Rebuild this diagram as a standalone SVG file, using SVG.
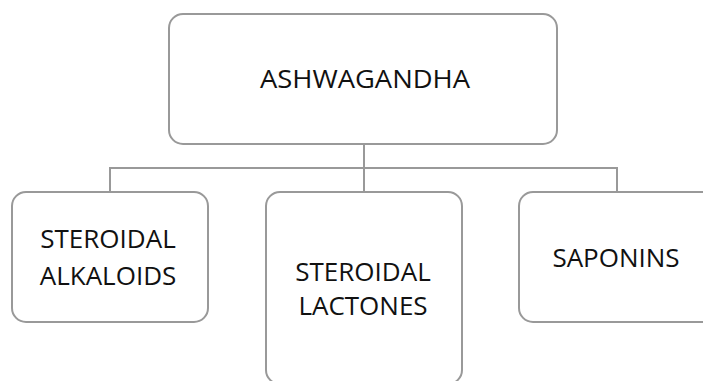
<svg xmlns="http://www.w3.org/2000/svg" width="703" height="381" viewBox="0 0 703 381">
<style>
.box{fill:#fff;stroke:#999;stroke-width:2}
.t{font-family:"Open Sans","Liberation Sans",sans-serif;font-size:26px;fill:#111;text-anchor:middle}
.c{fill:none;stroke:#999;stroke-width:2}
</style>
<rect width="703" height="381" fill="#fff"/>
<g id="connectors">
<path class="c" d="M364 144 V192 M110 192 V168 H617 V192"/>
</g>
<g id="ashwagandha">
<rect class="box" x="169" y="14" width="388" height="130" rx="14"/>
<text class="t" x="365" y="88" textLength="210" lengthAdjust="spacingAndGlyphs">ASHWAGANDHA</text>
</g>
<g id="steroidal-alkaloids">
<rect class="box" x="12" y="192" width="196" height="130" rx="14"/>
<text class="t" x="108" y="248">STEROIDAL</text>
<text class="t" x="108" y="285">ALKALOIDS</text>
</g>
<g id="steroidal-lactones">
<rect class="box" x="266" y="192" width="196" height="192" rx="14"/>
<text class="t" x="363" y="281">STEROIDAL</text>
<text class="t" x="363" y="315">LACTONES</text>
</g>
<g id="saponins">
<rect class="box" x="519" y="192" width="200" height="130" rx="14"/>
<text class="t" x="616" y="267">SAPONINS</text>
</g>
</svg>
